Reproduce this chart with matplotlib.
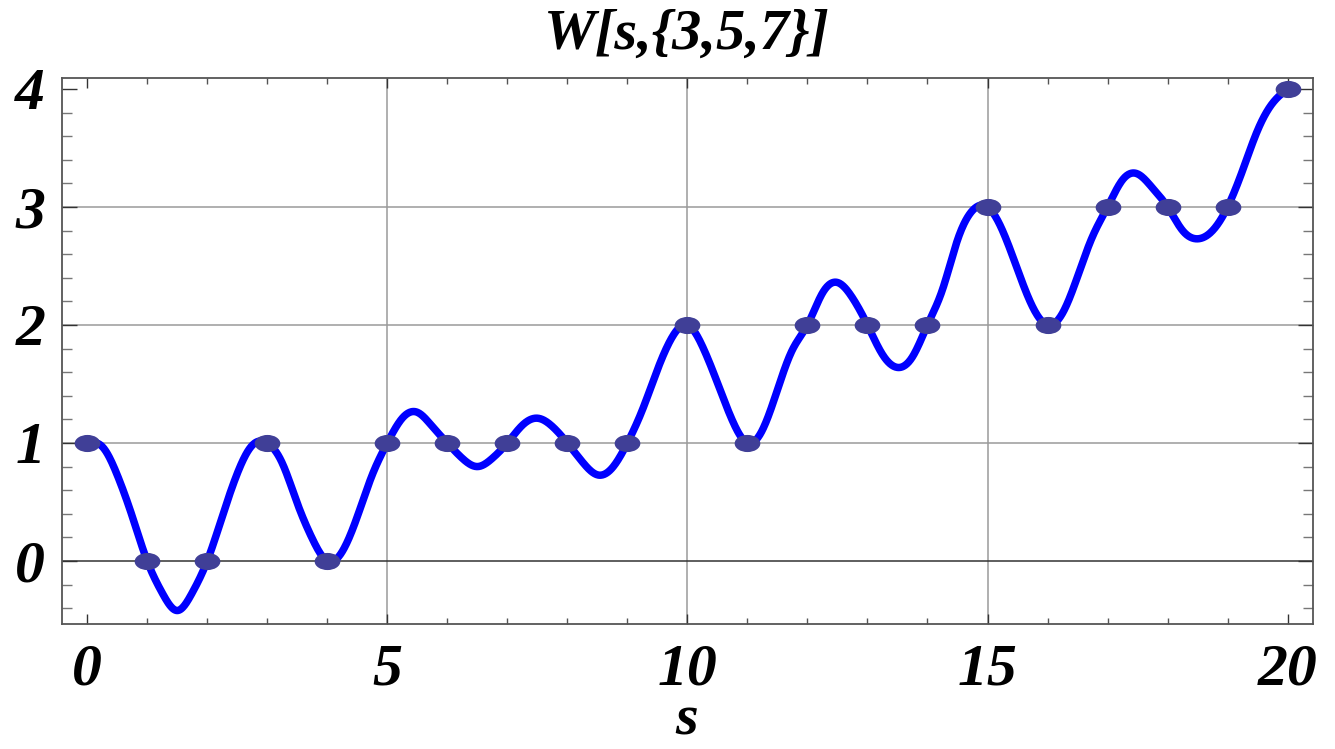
import numpy as np
import matplotlib
matplotlib.use("Agg")
import matplotlib.pyplot as plt
from matplotlib.path import Path
from matplotlib.transforms import Affine2D
from matplotlib.ticker import MultipleLocator

# ---- data -------------------------------------------------------------
s_points = [0, 1, 2, 3, 4, 5, 6, 7, 8, 9, 10, 11, 12, 13, 14, 15, 16, 17, 18, 19, 20]
w_points = [1, 0, 0, 1, 0, 1, 1, 1, 1, 1, 2, 1, 2, 2, 2, 3, 2, 3, 3, 3, 4]

# continuous curve, every 0.25
curve_s = [i * 0.25 for i in range(81)]
curve_w = [1.00, 0.97, 0.73, 0.38, 0.00, -0.27, -0.42, -0.27,
           0.00, 0.375, 0.74, 0.98, 1.00, 0.83, 0.49, 0.19,
           0.00, 0.08, 0.375, 0.73, 1.00, 1.21, 1.26, 1.14,
           1.00, 0.87, 0.80, 0.87, 1.00, 1.15, 1.21, 1.14,
           1.00, 0.84, 0.73, 0.79, 1.00, 1.28, 1.62, 1.90,
           2.00, 1.82, 1.51, 1.19, 1.00, 1.11, 1.45, 1.79,
           2.00, 2.27, 2.36, 2.23, 2.00, 1.75, 1.64, 1.73,
           2.00, 2.30, 2.72, 2.97, 3.00, 2.80, 2.47, 2.155,
           2.00, 2.10, 2.41, 2.75, 3.00, 3.23, 3.28, 3.16,
           3.00, 2.80, 2.73, 2.80, 3.00, 3.31, 3.65, 3.88,
           4.00]

title_text = "W[s,{3,5,7}]"
xlabel_text = "s"


def natural_spline(x, y, xn):
    x = np.asarray(x, float); y = np.asarray(y, float)
    n = len(x)
    h = np.diff(x)
    A = np.zeros((n, n)); r = np.zeros(n)
    A[0, 0] = A[-1, -1] = 1
    for i in range(1, n - 1):
        A[i, i - 1] = h[i - 1]
        A[i, i] = 2 * (h[i - 1] + h[i])
        A[i, i + 1] = h[i]
        r[i] = 3 * ((y[i + 1] - y[i]) / h[i] - (y[i] - y[i - 1]) / h[i - 1])
    c = np.linalg.solve(A, r)
    b = (np.diff(y) / h) - h * (2 * c[:-1] + c[1:]) / 3
    d = np.diff(c) / (3 * h)
    idx = np.clip(np.searchsorted(x, xn) - 1, 0, n - 2)
    dx = xn - x[idx]
    return y[idx] + b[idx] * dx + c[idx] * dx ** 2 + d[idx] * dx ** 3


fine_s = np.linspace(curve_s[0], curve_s[-1], 2000)
fine_w = natural_spline(curve_s, curve_w, fine_s)

# ---- figure -----------------------------------------------------------
fig = plt.figure(figsize=(13.35, 7.49), dpi=100)
ax = fig.add_axes([0.0464, 0.1669, 0.937, 0.729])

font = dict(family="Liberation Serif", weight="bold", style="italic")

ax.set_xlim(-0.42, 20.42)
ax.set_ylim(-0.534, 4.093)

# grid
for gx in (5, 10, 15):
    ax.axvline(gx, color="#9a9a9a", lw=1.1, zorder=0)
for gy in (1, 2, 3):
    ax.axhline(gy, color="#9a9a9a", lw=1.1, zorder=0)
ax.axhline(0, color="#333333", lw=1.1, zorder=0)

ax.plot(fine_s, fine_w, color="#0000ff", lw=5.4, solid_capstyle="butt", zorder=2)

ellipse = Path.unit_circle().transformed(Affine2D().scale(1.5, 1.0))
ax.plot(s_points, w_points, linestyle="none", marker=ellipse, markersize=18.5,
        color="#403f97", markeredgewidth=0, zorder=3)

# ticks
ax.xaxis.set_major_locator(MultipleLocator(5))
ax.xaxis.set_minor_locator(MultipleLocator(1))
ax.yaxis.set_major_locator(MultipleLocator(1))
ax.yaxis.set_minor_locator(MultipleLocator(0.2))
ax.tick_params(axis="x", which="major", direction="in", length=7.5, width=1.0,
               color="#333333", top=True, bottom=True, pad=14)
ax.tick_params(axis="x", which="minor", direction="in", length=4.2, width=1.0,
               color="#555555", top=True, bottom=True)
ax.tick_params(axis="y", which="major", direction="in", length=11, width=1.0,
               color="#333333", left=True, right=True, pad=12)
ax.tick_params(axis="y", which="minor", direction="in", length=7, width=1.0,
               color="#777777", left=True, right=True)

ax.set_xticks([0, 5, 10, 15, 20])
ax.set_xticklabels(["0", "5", "10", "15", "20"], fontsize=43, **font)
ax.set_yticks([0, 1, 2, 3, 4])
ax.set_yticklabels(["0", "1", "2", "3", "4"], fontsize=43, **font)

for sp in ax.spines.values():
    sp.set_color("#555555")
    sp.set_linewidth(1.3)

fig.text(0.5146, 0.953, title_text, ha="center", va="center", fontsize=42, **font)
fig.text(0.5146, 0.004, xlabel_text, ha="center", va="bottom", fontsize=42, **font)

fig.savefig("out.png", dpi=100)
